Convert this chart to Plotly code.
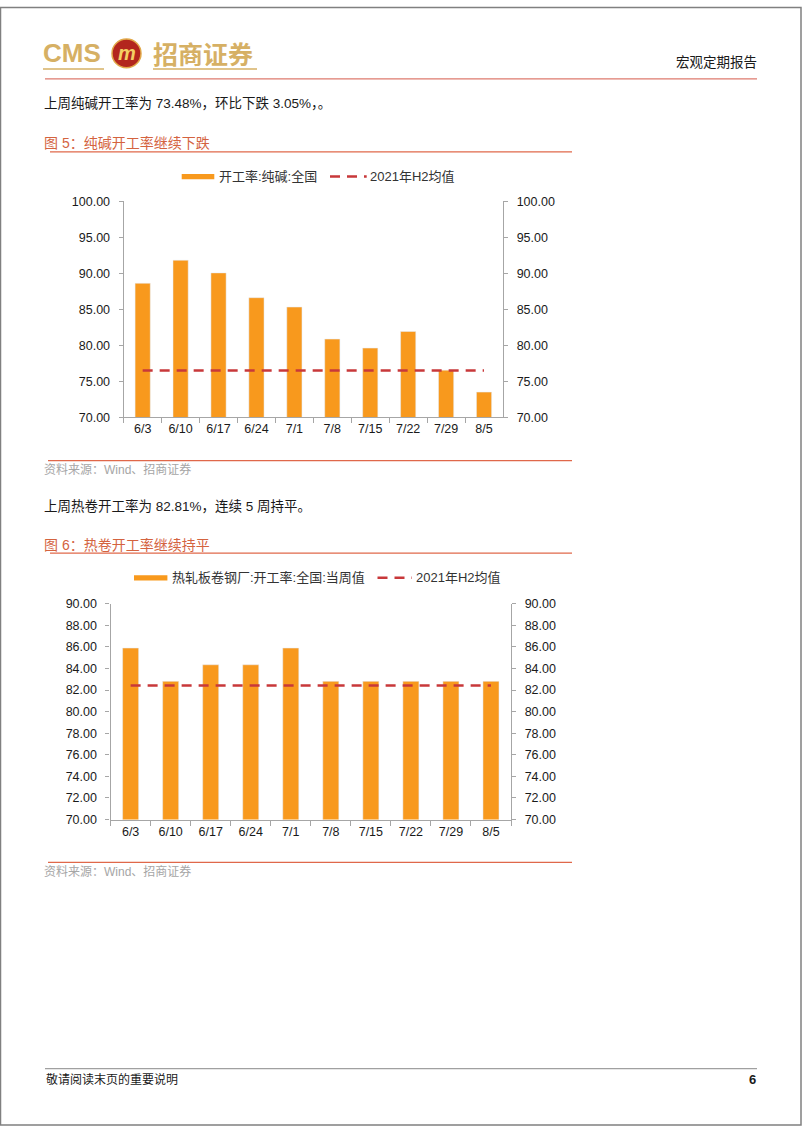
import plotly.graph_objects as go

# ---------------- data ----------------
weeks = ["6/3", "6/10", "6/17", "6/24", "7/1", "7/8", "7/15", "7/22", "7/29", "8/5"]
soda_rate = [88.6, 91.8, 90.05, 86.6, 85.3, 80.85, 79.6, 81.9, 76.53, 73.48]
soda_h2_avg = 76.5
hrc_rate = [85.9, 82.81, 84.35, 84.35, 85.9, 82.81, 82.81, 82.81, 82.81, 82.81]
hrc_h2_avg = 82.43

soda_name = "开工率:纯碱:全国"
hrc_name = "热轧板卷钢厂:开工率:全国:当周值"
avg_name = "2021年H2均值"

# ---------------- page geometry helpers ----------------
W, H = 802, 1133
def X(px):
    return px / W
def Y(py):
    return 1 - py / H

FONT = "Liberation Sans, Arial, Noto Sans CJK SC, sans-serif"
BAR = "#F8991D"
DASH_RED = "#C8383A"
AXIS = "#A6A6A6"
GOLD = "#D6B064"
TITLE_RED = "#D4633F"
RULE_RED = "#E0684A"

fig = go.Figure()

# chart 1
fig.add_trace(go.Bar(x=weeks, y=soda_rate, name=soda_name, marker_color=BAR,
                     xaxis="x", yaxis="y"))
fig.add_trace(go.Scatter(x=weeks, y=[soda_h2_avg] * len(weeks), name=avg_name,
                         mode="lines", line=dict(color=DASH_RED, width=2.5, dash="10px,7px"),
                         xaxis="x", yaxis="y2"))
# chart 2
fig.add_trace(go.Bar(x=weeks, y=hrc_rate, name=hrc_name, marker_color=BAR,
                     xaxis="x2", yaxis="y3"))
fig.add_trace(go.Scatter(x=weeks, y=[hrc_h2_avg] * len(weeks), name=avg_name,
                         mode="lines", line=dict(color=DASH_RED, width=2.5, dash="10px,7px"),
                         xaxis="x2", yaxis="y4"))

xcommon = dict(type="category", showline=True, linecolor=AXIS, linewidth=1.3,
               ticks="outside", tickson="boundaries", ticklen=5, tickcolor=AXIS,
               tickwidth=1.2, showgrid=False, zeroline=False,
               tickfont=dict(family=FONT, size=12.5, color="#1a1a1a"))
ycommon = dict(showline=True, linecolor=AXIS, linewidth=1.3, ticks="outside",
               ticklen=4, tickcolor=AXIS, tickwidth=1.2, showgrid=False,
               zeroline=False, tickformat=".2f", ticklabelstandoff=6,
               tickfont=dict(family=FONT, size=12.5, color="#1a1a1a"))

fig.update_layout(
    width=W, height=H, margin=dict(l=0, r=0, t=0, b=0),
    paper_bgcolor="white", plot_bgcolor="white", showlegend=False,
    bargap=0.6,
    xaxis=dict(domain=[X(123.7), X(503)], anchor="y", **xcommon),
    yaxis=dict(domain=[Y(415.3), Y(196.7)], range=[70, 100], dtick=5, anchor="x", **ycommon),
    yaxis2=dict(overlaying="y", side="right", anchor="x", range=[70, 100], dtick=5, **ycommon),
    xaxis2=dict(domain=[X(110.6), X(511)], anchor="y3", **xcommon),
    yaxis3=dict(domain=[Y(822.7), Y(604.3)], range=[70, 90], dtick=2, anchor="x2", **ycommon),
    yaxis4=dict(overlaying="y3", side="right", anchor="x2", range=[70, 90], dtick=2, **ycommon),
)

shapes = []
annos = []

def hline(x0, x1, y, color, width=1.2):
    shapes.append(dict(type="line", xref="paper", yref="paper", x0=X(x0), x1=X(x1),
                       y0=Y(y), y1=Y(y), line=dict(color=color, width=width)))

def text(x, y, s, size=13, color="#1a1a1a", anchor="left", family=FONT, bold=False):
    annos.append(dict(xref="paper", yref="paper", x=X(x), y=Y(y), text=("<b>%s</b>" % s) if bold else s,
                      showarrow=False, xanchor=anchor, yanchor="middle",
                      font=dict(family=family, size=size, color=color), borderpad=0))

# page border
shapes.append(dict(type="rect", xref="paper", yref="paper", x0=X(0.5), x1=X(801), y0=Y(1132), y1=Y(0.5),
                   line=dict(color="#808080", width=1.5), fillcolor="rgba(0,0,0,0)"))

# header logo
text(42, 47, "CMS", size=26, color=GOLD, bold=True)
shapes.append(dict(type="circle", xref="paper", yref="paper", x0=X(112), x1=X(141), y0=Y(61.5), y1=Y(32.5),
                   fillcolor="#B3261E", line=dict(color="#E1A94A", width=1.5)))
annos.append(dict(xref="paper", yref="paper", x=X(126.5), y=Y(47), text="<b><i>m</i></b>", showarrow=False,
                  xanchor="center", yanchor="middle", font=dict(family=FONT, size=20, color="#F4CF63")))
text(152, 47, "招商证券", size=25, color=GOLD, family="Noto Sans CJK SC", bold=True)
hline(43, 104, 62.7, GOLD, 1.5)
hline(153, 257, 62.7, GOLD, 1.5)
text(758, 56, "宏观定期报告", size=13.5, anchor="right")
hline(45, 757, 72.7, "#DE7A6E", 1.2)

# section 1
text(43, 96.7, "上周纯碱开工率为 73.48%，环比下跌 3.05%，。", size=13.5)
text(43, 138, "图 5：纯碱开工率继续下跌", size=14, color=TITLE_RED)
hline(50, 572, 146.7, RULE_RED, 1.3)

# legend 1
shapes.append(dict(type="rect", xref="paper", yref="paper", x0=X(181.7), x1=X(214.3), y0=Y(174.3), y1=Y(169.1),
                   fillcolor=BAR, line=dict(width=0)))
text(218, 171.7, soda_name, size=13, color="#333333")
shapes.append(dict(type="line", xref="paper", yref="paper", x0=X(330), x1=X(366.7), y0=Y(171.7), y1=Y(171.7),
                   line=dict(color=DASH_RED, width=2.5, dash="10px,7px")))
text(369, 171.7, avg_name, size=13, color="#333333")

hline(48, 572, 459.3, RULE_RED, 1.3)
text(43, 468.5, "资料来源：Wind、招商证券", size=12, color="#A6A6A6")

# section 2
text(43, 505, "上周热卷开工率为 82.81%，连续 5 周持平。", size=13.5)
text(43, 545, "图 6：热卷开工率继续持平", size=14, color=TITLE_RED)
hline(50, 572, 553, RULE_RED, 1.3)

# legend 2
shapes.append(dict(type="rect", xref="paper", yref="paper", x0=X(134), x1=X(167.4), y0=Y(580.6), y1=Y(575.4),
                   fillcolor=BAR, line=dict(width=0)))
text(171, 578, hrc_name, size=13, color="#333333")
shapes.append(dict(type="line", xref="paper", yref="paper", x0=X(377.5), x1=X(412), y0=Y(578), y1=Y(578),
                   line=dict(color=DASH_RED, width=2.5, dash="10px,7px")))
text(415, 578, avg_name, size=13, color="#333333")

hline(48, 572, 866, RULE_RED, 1.3)
text(43, 875, "资料来源：Wind、招商证券", size=12, color="#A6A6A6")

# footer
hline(45, 757, 1075, "#A0A0A0", 1.2)
text(45, 1086, "敬请阅读末页的重要说明", size=12)
text(757, 1086, "6", size=13, anchor="right", bold=True)

fig.update_layout(shapes=shapes, annotations=annos)
fig.write_html("out.html")
